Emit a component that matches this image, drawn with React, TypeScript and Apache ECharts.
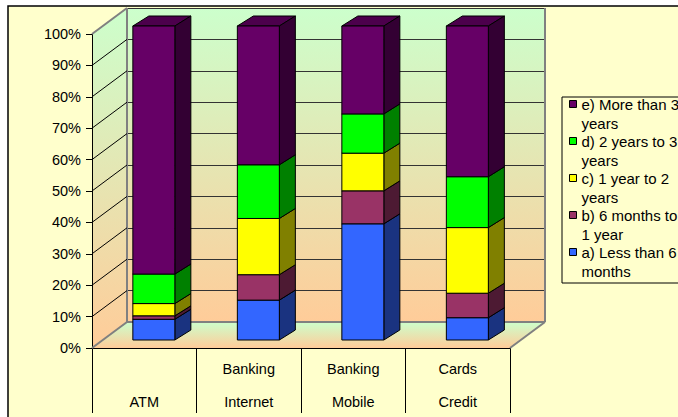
import React, { useEffect, useRef } from "react";
import * as echarts from "echarts";

// ---- data ----
const CATEGORIES = ["ATM", "Banking\nInternet", "Banking\nMobile", "Cards\nCredit"];
const SERIES_NAMES = [
  "a) Less than 6\nmonths",
  "b) 6 months to\n1 year",
  "c) 1 year to 2\nyears",
  "d) 2 years to 3\nyears",
  "e) More than 3\nyears",
];
const LESS_THAN_6_MONTHS = [6.6, 12.7, 37.0, 7.1];
const SIX_MONTHS_TO_1_YEAR = [1.1, 8.1, 10.5, 7.8];
const ONE_TO_2_YEARS = [3.9, 17.9, 12.0, 20.9];
const TWO_TO_3_YEARS = [9.4, 17.1, 12.5, 16.2];
const MORE_THAN_3_YEARS = [79.0, 44.2, 28.0, 48.0];
const VALUE_TICKS = [0, 10, 20, 30, 40, 50, 60, 70, 80, 90, 100];

// ---- styles ----
const FRONT = ["#3366FF", "#993366", "#FFFF00", "#00FF00", "#660066"];
const SIDE = ["#1A3380", "#4D1A33", "#808000", "#008000", "#330033"];
const TOPC = ["#264DBF", "#73264D", "#BFBF00", "#00BF00", "#4C004C"];
const FONT = "'Liberation Sans', Arial, sans-serif";
const WALL_DEPTH = [35, -26];
const BAR_OFFSET = [9.6, -8];
const BAR_DEPTH = [16, -10];
const BAR_RATIO = 0.402;

export default function App() {
  const ref = useRef<HTMLDivElement>(null);
  useEffect(() => {
    if (!ref.current) return;
    const chart = echarts.init(ref.current, undefined, { renderer: "svg" });
    const allSeries = [LESS_THAN_6_MONTHS, SIX_MONTHS_TO_1_YEAR, ONE_TO_2_YEARS, TWO_TO_3_YEARS, MORE_THAN_3_YEARS];
    const cum = CATEGORIES.map(() => 0);
    const barSeries = allSeries.map((vals, si) => {
      const data = vals.map((v, i) => {
        const lo = cum[i];
        cum[i] += v;
        return [i, lo, cum[i]];
      });
      return {
        type: "custom",
        name: SERIES_NAMES[si],
        xAxisIndex: 0,
        yAxisIndex: 0,
        z: 2 + si * 0.01,
        itemStyle: { color: FRONT[si] },
        encode: { x: 0, y: [1, 2] },
        data,
        renderItem: (params: any, api: any) => {
          const cat = api.value(0);
          const p0 = api.coord([cat, api.value(1)]);
          const p1 = api.coord([cat, api.value(2)]);
          const band = api.size([1, 0])[0];
          const w = band * BAR_RATIO;
          const cx = p0[0] + BAR_OFFSET[0];
          const xl = cx - w / 2;
          const xr = cx + w / 2;
          const yb = p0[1] + BAR_OFFSET[1];
          const yt = p1[1] + BAR_OFFSET[1];
          const [ddx, ddy] = BAR_DEPTH;
          const st = { stroke: "#000", lineWidth: 1, lineJoin: "round" };
          return {
            type: "group",
            children: [
              {
                type: "polygon",
                shape: { points: [[xl, yt], [xr, yt], [xr + ddx, yt + ddy], [xl + ddx, yt + ddy]] },
                style: { fill: TOPC[si], ...st },
              },
              {
                type: "polygon",
                shape: { points: [[xr, yb], [xr + ddx, yb + ddy], [xr + ddx, yt + ddy], [xr, yt]] },
                style: { fill: SIDE[si], ...st },
              },
              {
                type: "rect",
                shape: { x: xl, y: yt, width: w, height: yb - yt },
                style: { fill: FRONT[si], ...st },
              },
            ],
          };
        },
      };
    });

    const wallsSeries = {
      type: "custom",
      xAxisIndex: 0,
      yAxisIndex: 0,
      z: -1,
      silent: true,
      data: [[0, 0]],
      renderItem: (params: any) => {
        const cs = params.coordSys;
        const x = cs.x, y = cs.y, w = cs.width, h = cs.height;
        const [dx, dy] = WALL_DEPTH;
        const wallGrad = new echarts.graphic.LinearGradient(0, 0, 0, 1, [
          { offset: 0, color: "#CCFFCC" },
          { offset: 1, color: "#FFCC99" },
        ]);
        const floorGrad = new echarts.graphic.LinearGradient(0, 0, 0, 1, [
          { offset: 0, color: "#CCFFCC" },
          { offset: 1, color: "#FFCC99" },
        ]);
        return {
          type: "group",
          children: [
            {
              type: "polygon",
              shape: { points: [[x, y], [x + dx, y + dy], [x + dx, y + h + dy], [x, y + h]] },
              style: { fill: wallGrad },
            },
            {
              type: "polygon",
              shape: { points: [[x, y + h], [x + w, y + h], [x + w + dx, y + h + dy], [x + dx, y + h + dy]] },
              style: { fill: floorGrad },
            },
          ],
        };
      },
    };

    const edgesSeries = {
      type: "custom",
      xAxisIndex: 0,
      yAxisIndex: 0,
      z: 1,
      silent: true,
      encode: { x: 0, y: 1 },
      data: VALUE_TICKS.map((v) => [0, v]),
      renderItem: (params: any, api: any) => {
        const cs = params.coordSys;
        const x = cs.x, y = cs.y, w = cs.width, h = cs.height;
        const [dx, dy] = WALL_DEPTH;
        const v = api.value(1);
        const yv = api.coord([0, v])[1];
        const isEdge = v === VALUE_TICKS[0] || v === VALUE_TICKS[VALUE_TICKS.length - 1];
        const children: any[] = [
          {
            type: "line",
            shape: { x1: x, y1: yv, x2: x + dx, y2: yv + dy },
            style: { stroke: isEdge ? "#808080" : "#000", lineWidth: isEdge ? 2 : 1 },
          },
        ];
        if (v === VALUE_TICKS[0]) {
          const gray = { stroke: "#808080", lineWidth: 2 };
          children.push(
            { type: "line", shape: { x1: x + dx, y1: y + dy, x2: x + dx, y2: y + h + dy }, style: gray },
            { type: "line", shape: { x1: x + w + dx, y1: y + dy, x2: x + w + dx, y2: y + h + dy }, style: gray },
            { type: "line", shape: { x1: x + dx, y1: y + h + dy, x2: x + w + dx, y2: y + h + dy }, style: gray },
            { type: "line", shape: { x1: x + w, y1: y + h, x2: x + w + dx, y2: y + h + dy }, style: gray }
          );
        }
        return { type: "group", children };
      },
    };

    const option: any = {
      animation: false,
      backgroundColor: "#FFFFFF",
      textStyle: { fontFamily: FONT },
      graphic: [
        {
          type: "rect",
          z: -10,
          silent: true,
          shape: { x: 8, y: 6, width: 720, height: 440 },
          style: { fill: "#FFFFCC", stroke: "#000", lineWidth: 1.5 },
        },
        {
          type: "rect",
          z: -5,
          silent: true,
          shape: { x: 562, y: 97, width: 200, height: 186 },
          style: { fill: "#FFFFCC", stroke: "#000", lineWidth: 1 },
        },
      ],
      grid: [
        { left: 92, top: 34, width: 418, height: 314, outerBoundsMode: "none", containLabel: false },
        {
          left: 127, top: 8, width: 418, height: 314, outerBoundsMode: "none", containLabel: false,
          show: true, borderWidth: 0,
          backgroundColor: new echarts.graphic.LinearGradient(0, 0, 0, 1, [
            { offset: 0, color: "#CCFFCC" },
            { offset: 1, color: "#FFCC99" },
          ]),
        },
      ],
      xAxis: [
        {
          type: "category",
          gridIndex: 0,
          data: CATEGORIES,
          boundaryGap: true,
          axisLine: { show: true, lineStyle: { color: "#000", width: 1 } },
          axisTick: { show: true, length: 65, interval: 0, alignWithLabel: false, lineStyle: { color: "#000" } },
          axisLabel: {
            interval: 0,
            color: "#000",
            fontSize: 14.5,
            fontFamily: FONT,
            lineHeight: 33,
            margin: 4.5,
            formatter: (v: string) => (v.indexOf("\n") >= 0 ? v : "\n" + v),
          },
          splitLine: { show: false },
        },
        { type: "value", gridIndex: 1, min: 0, max: 1, show: false },
      ],
      yAxis: [
        {
          type: "value",
          gridIndex: 0,
          min: 0,
          max: 100,
          interval: 10,
          axisLine: { show: true, lineStyle: { color: "#000", width: 1 } },
          axisTick: { show: true, length: 6, lineStyle: { color: "#000" } },
          axisLabel: { formatter: "{value}%", color: "#000", fontSize: 14.5, fontFamily: FONT, margin: 11 },
          splitLine: { show: false },
        },
        {
          type: "value",
          gridIndex: 1,
          min: 0,
          max: 100,
          interval: 10,
          axisLine: { show: false },
          axisTick: { show: false },
          axisLabel: { show: false },
          splitLine: { show: true, lineStyle: { color: "#333", width: 1 } },
        },
      ],
      legend: {
        orient: "vertical",
        left: 569,
        top: 75.5,
        padding: 0,
        itemGap: -20,
        itemWidth: 7,
        itemHeight: 7,
        icon: "rect",
        itemStyle: { borderColor: "#000", borderWidth: 1 },
        formatter: (name: string) => "\n" + name,
        textStyle: {
          fontSize: 15,
          lineHeight: 19,
          color: "#000",
          fontFamily: FONT,
          backgroundColor: "rgba(0,0,0,0)",
        },
        data: SERIES_NAMES.slice().reverse(),
      },
      series: [wallsSeries, edgesSeries, ...barSeries],
    };
    chart.setOption(option);
    return () => chart.dispose();
  }, []);
  return (
    <div
      ref={ref}
      style={{ position: "absolute", left: 0, top: 0, width: 678, height: 417 }}
    />
  );
}
